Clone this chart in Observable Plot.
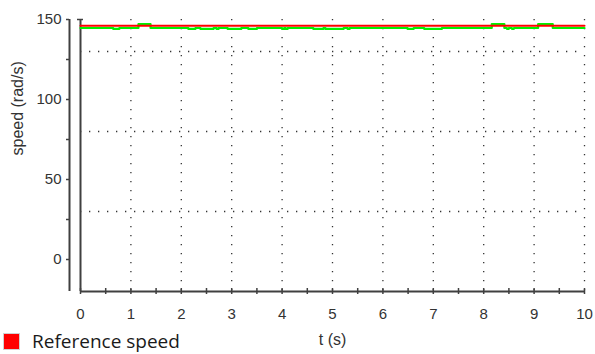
<!DOCTYPE html>
<html>
<head>
<meta charset="utf-8">
<script src="https://cdn.jsdelivr.net/npm/d3@7"></script>
<script src="https://cdn.jsdelivr.net/npm/@observablehq/plot@0.6"></script>
<style>
  html, body { margin: 0; padding: 0; background: #fff; }
  #wrap { position: relative; width: 595px; height: 354px; overflow: hidden; }
  #legend { position: absolute; left: 3px; top: 332px; height: 18px; display: flex; align-items: center;
            font-family: "Open Sans", sans-serif; font-size: 19px; line-height: 18px; color: #1a1a1a; }
  #legend .sw { width: 15px; height: 15px; background: #ff0000; border: 1px solid #d0d0d0; margin-right: 12px; }
</style>
</head>
<body>
<div id="wrap"><div id="legend"><span class="sw"></span><span>Reference speed</span></div></div>
<script>
// Reference speed (rad/s), constant over the run
const refTime = [0, 10];
const refSpeed = [146.1, 146.1];

// Measured speed (rad/s), piecewise levels starting at each time
const measTime = [0, 0.65, 0.77, 1.15, 1.39, 2.14, 2.28, 2.38, 2.64, 2.70, 2.74, 2.92, 3.19, 3.33, 3.50,
  4.00, 4.04, 4.07, 4.11, 4.62, 4.82, 4.86, 5.22, 5.30, 5.34, 6.49, 6.61, 6.82, 7.17,
  8.16, 8.41, 8.46, 8.50, 8.56, 8.60, 9.08, 9.37, 10];
const measSpeed = [144.7, 144.1, 144.7, 147.1, 144.7, 144.1, 144.7, 144.1, 144.7, 144.1, 144.7, 144.1, 144.7, 144.1, 144.7,
  144.1, 144.7, 144.1, 144.7, 144.1, 144.7, 144.1, 144.7, 144.1, 144.7, 144.1, 144.7, 144.1, 144.7,
  147.1, 144.7, 144.2, 144.7, 144.2, 144.7, 147.1, 144.7, 144.7];

// Axis ticks and grid positions
const xTicks = [0, 1, 2, 3, 4, 5, 6, 7, 8, 9, 10];
const xMinorTicks = [0.5, 1.5, 2.5, 3.5, 4.5, 5.5, 6.5, 7.5, 8.5, 9.5];
const yTicks = [0, 50, 100, 150];
const yMinorTicks = [25, 75, 125];
const xGrid = [1, 2, 3, 4, 5, 6, 7, 8, 9, 10];
const yGrid = [30, 80, 130];
const xDomain = [0, 10];
const yDomain = [-20, 150];

const ref = refTime.map((t, i) => ({t, v: refSpeed[i]}));
const meas = measTime.map((t, i) => ({t, v: measSpeed[i]}));

const axisColor = "#404040";
const tickFont = "'Liberation Sans', Arial, sans-serif";

const chart = Plot.plot({
  width: 595,
  height: 354,
  marginLeft: 80,
  marginRight: 11,
  marginTop: 19,
  marginBottom: 63,
  style: {fontFamily: tickFont, fontSize: "15px", color: "#333", background: "transparent"},
  x: {domain: xDomain},
  y: {domain: yDomain},
  marks: [
    // dotted grid
    Plot.ruleY(yGrid, {stroke: "#333", strokeWidth: 1.3, strokeDasharray: "1.3,7.7"}),
    Plot.ruleX(xGrid, {stroke: "#333", strokeWidth: 1.3, strokeDasharray: "1.3,7.7"}),
    // detached y axis
    Plot.ruleX([xDomain[0]], {dx: -11, stroke: axisColor, strokeWidth: 2}),
    Plot.axisY({ticks: yTicks, tickSize: 3, tickPadding: 5, dx: -11, stroke: axisColor, strokeWidth: 1.5, label: null, fontSize: 15, fill: "#333"}),
    Plot.axisY({ticks: yMinorTicks, tickSize: 3, dx: -11, text: null, stroke: axisColor, strokeWidth: 1.5, label: null}),
    // plot frame left and bottom
    Plot.ruleX([xDomain[0]], {stroke: axisColor, strokeWidth: 2}),
    Plot.ruleY([yDomain[1]], {x1: xDomain[0], x2: xDomain[0], insetLeft: -3, insetRight: -3, stroke: axisColor, strokeWidth: 1.5}),
    Plot.ruleY([yDomain[0]], {stroke: axisColor, strokeWidth: 2}),
    Plot.axisX({ticks: xTicks, tickSize: 6, dy: -3, text: null, stroke: axisColor, strokeWidth: 1.5, label: null}),
    Plot.axisX({ticks: xMinorTicks, tickSize: 6, dy: -3, text: null, stroke: axisColor, strokeWidth: 1.5, label: null}),
    Plot.axisX({ticks: xTicks, tickSize: 0, tickPadding: 17, label: null, fontSize: 15, fill: "#333"}),
    // series
    Plot.line(meas, {x: "t", y: "v", curve: "step-after", stroke: "#00f000", strokeWidth: 2.2}),
    Plot.line(ref, {x: "t", y: "v", stroke: "#ff0000", strokeWidth: 2}),
    // axis titles
    Plot.text(["t (s)"], {frameAnchor: "bottom", dy: 53, fontSize: 16, fill: "#333"}),
    Plot.text(["speed (rad/s)"], {frameAnchor: "left", dx: -63, rotate: -90, fontSize: 16, fill: "#333"})
  ]
});
document.getElementById("wrap").prepend(chart);
</script>
</body>
</html>
